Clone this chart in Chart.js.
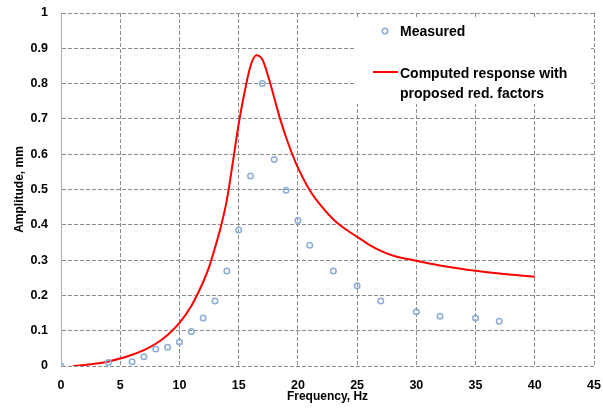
<!DOCTYPE html>
<html>
<head>
<meta charset="utf-8">
<script src="https://cdn.jsdelivr.net/npm/chart.js@4"></script>
<style>
  html, body { margin: 0; padding: 0; background: #fff; }
  #wrap { width: 603px; height: 415px; }
</style>
</head>
<body>
<div id="wrap"><canvas id="respChart" width="603" height="415"></canvas></div>
<script>
// measured amplitudes
const measuredFreq = [0, 4, 6, 7, 8, 9, 10, 11, 12, 13, 14, 15, 16, 17, 18, 19, 20, 21, 23, 25, 27, 30, 32, 35, 37];
const measuredAmp = [0, 0.01, 0.012, 0.026, 0.048, 0.053, 0.068, 0.098, 0.136, 0.184, 0.269, 0.385, 0.538, 0.8, 0.585, 0.498, 0.412, 0.342, 0.269, 0.227, 0.184, 0.154, 0.141, 0.136, 0.127];

// computed response
const computedFreq = [1, 2, 3, 4, 5, 6, 7, 8, 9, 10, 11, 12, 12.5, 13, 13.5, 14, 14.5, 15, 15.5, 16, 16.5, 17, 17.5, 18, 18.5, 19, 19.5, 20, 21, 22, 23, 24, 25, 26, 27, 28, 30, 32, 35, 37, 40];
const computedAmp = [0, 0.003, 0.007, 0.013, 0.021, 0.032, 0.045, 0.063, 0.088, 0.122, 0.17, 0.238, 0.28, 0.335, 0.395, 0.47, 0.575, 0.685, 0.776, 0.85, 0.88, 0.868, 0.82, 0.76, 0.7, 0.648, 0.602, 0.562, 0.498, 0.452, 0.415, 0.388, 0.366, 0.344, 0.326, 0.313, 0.298, 0.285, 0.27, 0.262, 0.253];

const seriesNames = ['Measured', ['Computed response with', 'proposed red. factors']];

const FONT = '"Liberation Sans", Arial, sans-serif';
const GRID = 'rgb(140,140,140)';

const measuredPts = measuredFreq.map((f, i) => ({ x: f, y: measuredAmp[i] }));
const computedPts = computedFreq.map((f, i) => ({ x: f, y: computedAmp[i] }));

// legend drawn inside the plot area, on a white box
const boxLegend = {
    id: 'boxLegend',
    beforeDatasetsDraw(chart) {
        const ctx = chart.ctx;
        const a = chart.chartArea;
        ctx.save();
        ctx.fillStyle = '#fff';
        ctx.fillRect(a.left + 294, a.top + 5, 236, 86);
        ctx.restore();
    },
    afterDraw(chart) {
        const ctx = chart.ctx;
        const a = chart.chartArea;
        const ds = chart.data.datasets;
        ctx.save();
        ctx.font = 'bold 14px ' + FONT;
        ctx.fillStyle = '#000';
        ctx.textBaseline = 'middle';
        ctx.textAlign = 'left';
        const tx = a.left + 339;

        // measured marker
        ctx.beginPath();
        ctx.strokeStyle = ds[0].borderColor;
        ctx.lineWidth = ds[0].borderWidth;
        ctx.arc(a.left + 324, a.top + 18, ds[0].pointRadius, 0, Math.PI * 2);
        ctx.stroke();
        ctx.fillText(ds[0].label, tx, a.top + 19);

        // computed line
        ctx.beginPath();
        ctx.strokeStyle = ds[1].borderColor;
        ctx.lineWidth = ds[1].borderWidth;
        ctx.moveTo(a.left + 312, a.top + 59);
        ctx.lineTo(a.left + 337, a.top + 59);
        ctx.stroke();
        seriesNames[1].forEach((t, i) => ctx.fillText(t, tx, a.top + 61 + i * 20));
        ctx.restore();
    }
};

const ctx = document.getElementById('respChart').getContext('2d');
new Chart(ctx, {
    type: 'scatter',
    data: {
        datasets: [{
            label: seriesNames[0],
            data: measuredPts,
            showLine: false,
            pointStyle: 'circle',
            pointRadius: 2.75,
            pointHoverRadius: 2.75,
            borderColor: 'rgb(140,172,215)',
            backgroundColor: 'rgba(0,0,0,0)',
            borderWidth: 1.5,
            order: 0
        }, {
            label: seriesNames[1].join(' '),
            data: computedPts,
            showLine: true,
            pointRadius: 0,
            borderColor: 'rgb(255,0,0)',
            borderWidth: 2,
            cubicInterpolationMode: 'monotone',
            fill: false,
            order: 1
        }]
    },
    options: {
        responsive: false,
        animation: false,
        layout: { padding: { top: 13, right: 9, left: 0, bottom: 0 } },
        plugins: {
            legend: { display: false },
            tooltip: { enabled: false }
        },
        scales: {
            x: {
                type: 'linear',
                min: 0,
                max: 45,
                afterFit: s => { s.height = 49; s.paddingLeft = 0; s.paddingRight = 0; },
                ticks: {
                    stepSize: 5,
                    padding: 12,
                    color: '#000',
                    font: { family: FONT, size: 12.5, weight: 'bold' }
                },
                grid: { color: GRID, drawTicks: false },
                border: { display: false, dash: [4, 2] },
                title: {
                    display: true,
                    text: 'Frequency, Hz',
                    color: '#000',
                    padding: { top: 0, bottom: 11 },
                    font: { family: FONT, size: 12, weight: 'bold' }
                }
            },
            y: {
                min: 0,
                max: 1,
                afterFit: s => { s.width = 61; s.paddingTop = 0; s.paddingBottom = 0; },
                ticks: {
                    stepSize: 0.1,
                    padding: 13,
                    color: '#000',
                    font: { family: FONT, size: 12.5, weight: 'bold' },
                    callback: v => Number(v.toFixed(1)).toString()
                },
                grid: { color: GRID, drawTicks: false },
                border: { color: 'rgb(175,175,175)', width: 1, dash: [4, 2] },
                title: {
                    display: true,
                    text: 'Amplitude, mm',
                    color: '#000',
                    padding: { top: 12, bottom: 0 },
                    font: { family: FONT, size: 12, weight: 'bold' }
                }
            }
        }
    },
    plugins: [boxLegend]
});
</script>
</body>
</html>
